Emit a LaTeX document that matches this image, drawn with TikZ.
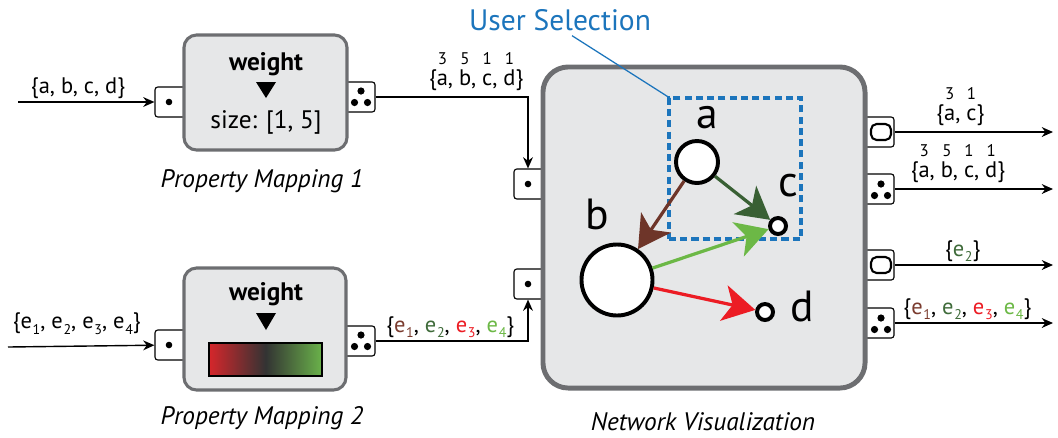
\documentclass[tikz,border=0pt]{standalone}
\usepackage{fontspec}
\setmainfont{PT Sans}
\usetikzlibrary{arrows.meta,backgrounds}

\definecolor{boxfill}{HTML}{E6E7E8}
\definecolor{boxline}{HTML}{6D6E71}
\definecolor{selblue}{HTML}{1C75BC}
\definecolor{eone}{HTML}{7A3B2E}
\definecolor{etwo}{HTML}{3F6B3A}
\definecolor{ethree}{HTML}{EC1C24}
\definecolor{efour}{HTML}{6CB846}
\definecolor{gradred}{HTML}{D6262B}
\definecolor{graddark}{HTML}{333333}
\definecolor{gradgreen}{HTML}{6AB24A}

% weight written above an item
\newcommand\wnum[2]{\begin{tabular}[b]{@{}c@{}}{\fontsize{12}{12}\selectfont #1}\\[-3.8pt]#2\end{tabular}}
% edge name with index
\newcommand\esub[2]{\textcolor{#1}{e\kern.5pt\raisebox{-.45ex}{\fontsize{10}{10}\selectfont #2}}}

\begin{document}
\begin{tikzpicture}
 [
  x=0.025cm, y=-0.025cm,
  >={Stealth[length=8pt,width=7pt]},
  box/.style     = {draw=boxline, fill=boxfill, line width=2.2pt, rounded corners=9pt},
  port/.style    = {draw, fill=white, line width=0.8pt, rounded corners=2pt,
                    minimum width=0.8cm, minimum height=0.75cm, inner sep=0pt},
  wire/.style    = {line width=1pt, ->},
  lbl/.style     = {font=\fontsize{16}{19}\selectfont, inner sep=2pt},
  caption/.style = {font=\fontsize{18}{20}\selectfont\itshape},
  wtitle/.style  = {font=\fontsize{18}{20}\selectfont\bfseries},
  vert/.style    = {draw, circle, fill=white, line width=2.8pt, inner sep=0pt},
  vlbl/.style    = {font=\fontsize{31}{31}\selectfont},
  edge/.style    = {line width=2.3pt, -{Stealth[length=0.8cm,width=0.9cm,inset=0.22cm]}},
  selbox/.style  = {draw=selblue, line width=2.2pt, dash pattern=on 5pt off 3pt},
  onedot/.pic    = {\fill (0,0) circle (3.3);},
  threedots/.pic = {\fill (0,-6) circle (3.6); \fill (-6.5,5.5) circle (3.6); \fill (6.5,5.5) circle (3.6);},
  hollow/.pic    = {\draw[line width=1.5pt, rounded corners=4pt] (-10,-8) rectangle (10,8);},
 ]
 \useasboundingbox (0,0) rectangle (1058,437);

 % ports sit behind the boxes
 \begin{pgfonlayer}{background}
  \node[port] (pmAin)  at (171,102) {};
  \node[port] (pmAout) at (359,97)  {};
  \node[port] (pmBin)  at (171,345) {};
  \node[port] (pmBout) at (359,341) {};
  \node[port] (nvinA)  at (530,184) {};
  \node[port] (nvinB)  at (530,284) {};
  \foreach \n/\y in {1/132, 2/189, 3/265, 4/323}
   \node[port] (out\n) at (878,\y) {};
 \end{pgfonlayer}

 % property mapping 1
 \node[box, minimum width=4.075cm, minimum height=2.875cm] (pmA) at (265.5,92.5) {};
 \node[wtitle] (wA) at (266,64) {weight};
 \fill (256,82) -- (276,82) -- (266,98) -- cycle;
 \node[font=\fontsize{18}{20}\selectfont] (sizeA) at (266,122) {size: [1, 5]};
 \node[caption] (capA) at (262,181) {Property Mapping 1};

 % property mapping 2
 \node[box, minimum width=4.05cm, minimum height=3.05cm] (pmB) at (265,329) {};
 \node[wtitle] (wB) at (266,294) {weight};
 \fill (256,313) -- (276,313) -- (266,330) -- cycle;
 \shadedraw[line width=1.4pt, left color=gradred, right color=gradgreen, middle color=graddark]
  (209,343) rectangle (322,376);
 \node[caption] (capB) at (262,418) {Property Mapping 2};

 % network visualization
 \node[box, minimum width=8.05cm, minimum height=8.025cm, rounded corners=18pt, line width=3.5pt]
  (netvis) at (704,227.5) {};
 \node[caption] (capN) at (703,422) {Network Visualization};

 % port icons
 \pic at (169,102) {onedot};
 \pic at (361,97)  {threedots};
 \pic at (169,345) {onedot};
 \pic at (361,341) {threedots};
 \pic at (528,184) {onedot};
 \pic at (528,284) {onedot};
 \pic at (881,132) {hollow};
 \pic at (881,190) {threedots};
 \pic at (881,265) {hollow};
 \pic at (881,324) {threedots};

 % user selection
 \node[selbox, minimum width=3.3cm, minimum height=3.525cm] (sel) at (735,168.5) {};
 \node[font=\fontsize{21}{24}\selectfont, text=selblue] (usersel) at (560,20) {User Selection};
 \draw[selblue, line width=0.9pt] ([xshift=0.3cm]usersel.south) -- (sel.north west);

 % graph
 \node[vert, minimum size=1.05cm]  (a) at (697,162) {};
 \node[vert, minimum size=1.775cm] (b) at (617,280) {};
 \node[vert, minimum size=0.4cm]   (c) at (778,226) {};
 \node[vert, minimum size=0.4cm]   (d) at (765,312) {};
 \node[vlbl] (alab) at (707,118) {a};
 \node[vlbl] (blab) at (597,214) {b};
 \node[vlbl] (clab) at (788,186) {c};
 \node[vlbl] (dlab) at (802,306) {d};
 \draw[edge, color=eone!90!black]  (a) -- (b);
 \draw[edge, color=etwo!90!black]  (a) -- (c);
 \draw[edge, color=efour] (b) -- (c);
 \draw[edge, color=ethree] (b) -- (d);

 % inputs
 \coordinate (srcA) at (18,102);
 \coordinate (srcB) at (8,347);
 \draw[wire] (srcA) -- node[lbl, above, pos=0.44] {\{a, b, c, d\}} (pmAin);
 \draw[wire] (srcB) -- node[lbl, above, pos=0.47, yshift=6pt]
  {\{e\kern.5pt\raisebox{-.45ex}{\fontsize{10}{10}\selectfont 1}, e\kern.5pt\raisebox{-.45ex}{\fontsize{10}{10}\selectfont 2}, e\kern.5pt\raisebox{-.45ex}{\fontsize{10}{10}\selectfont 3}, e\kern.5pt\raisebox{-.45ex}{\fontsize{10}{10}\selectfont 4}\}} (pmBin);

 % mappings into the network view
 \draw[wire] (pmAout) -| node[lbl, above, pos=0.33]
  {\{\wnum{3}{a}, \wnum{5}{b}, \wnum{1}{c}, \wnum{1}{d}\}} ([xshift=-0.05cm]nvinA.north);
 \draw[wire] (pmBout) -| node[lbl, above, pos=0.245]
  {\{\esub{eone}{1}, \esub{etwo}{2}, \esub{ethree}{3}, \esub{efour}{4}\}} ([xshift=-0.05cm]nvinB.south);

 % outputs
 \foreach \n/\y in {1/132, 2/189, 3/265, 4/323}
  \coordinate (sink\n) at (1053,\y);
 \draw[wire] (out1) -- node[lbl, above, pos=0.415] {\{\wnum{3}{a}, \wnum{1}{c}\}} (sink1);
 \draw[wire] (out2) -- node[lbl, above, pos=0.4]
  {\{\wnum{3}{a}, \wnum{5}{b}, \wnum{1}{c}, \wnum{1}{d}\}} (sink2);
 \draw[wire] (out3) -- node[lbl, above, pos=0.43] {\{\esub{etwo}{2}\}} (sink3);
 \draw[wire] (out4) -- node[lbl, above, pos=0.46]
  {\{\esub{eone}{1}, \esub{etwo}{2}, \esub{ethree}{3}, \esub{efour}{4}\}} (sink4);
\end{tikzpicture}
\end{document}
